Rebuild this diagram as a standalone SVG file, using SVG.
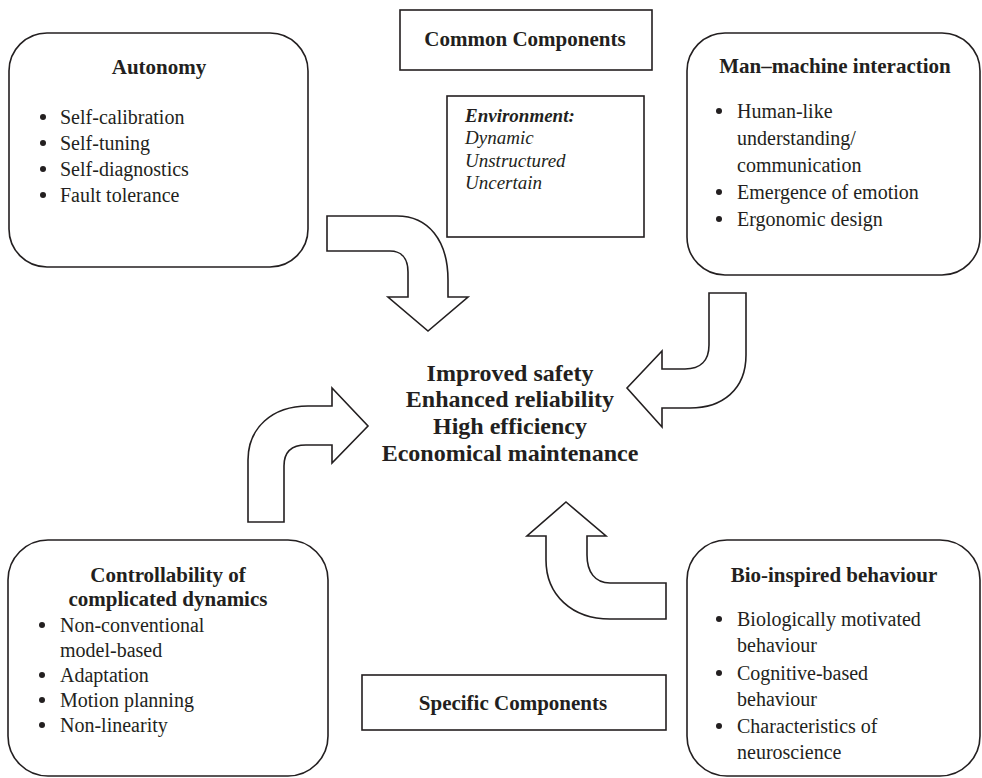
<svg xmlns="http://www.w3.org/2000/svg" width="982" height="778" viewBox="0 0 982 778">
<style>
.box{fill:#fff;stroke:#231f20;stroke-width:1.6}
.arr{fill:#fff;stroke:#231f20;stroke-width:1.6;stroke-linejoin:miter}
text{font-family:"Liberation Serif","Times New Roman",serif;fill:#231f20}
.t{font-size:21px;font-weight:bold;text-anchor:middle}
.b{font-size:20px}
.c{font-size:24px;font-weight:bold;text-anchor:middle}
.e{font-size:19px;font-style:italic}
.dot{fill:#231f20}
</style>
<rect width="982" height="778" fill="#fff"/>
<g id="connectors">
<path class="arr" d="M327,216 L397,216 C428,216 448,240 448,280 L448,297 L468,297 L428,331 L388,297 L408,297 L408,272 C408,258 401,251 390,251 L327,251 Z"/>
<path class="arr" d="M709,293 L746,293 L746,355 C746,390 722,408 690,408 L662,408 L662,427 L627,388 L662,351 L662,369 L685,369 C700,369 709,361 709,345 Z"/>
<path class="arr" d="M248,522 L248,460 C248,428 272,406 308,406 L332,406 L332,388 L368,426 L332,463 L332,445 L306,445 C292,445 284,452 284,466 L284,522 Z"/>
<path class="arr" d="M566,502 L606,536 L587,536 L587,555 C587,572 595,583 610,583 L666,583 L666,619 L610,619 C572,619 546,595 546,560 L546,536 L527,536 Z"/>
</g>
<g id="common">
<rect class="box" x="400" y="10" width="252" height="60"/>
<text class="t" x="525" y="46">Common Components</text>
</g>
<g id="environment">
<rect class="box" x="447" y="96" width="197" height="141"/>
<text class="e" x="465" y="122" font-weight="bold">Environment:</text>
<text class="e" x="465" y="144">Dynamic</text>
<text class="e" x="465" y="167">Unstructured</text>
<text class="e" x="465" y="189">Uncertain</text>
</g>
<g id="autonomy">
<rect class="box" x="9" y="33" width="299" height="234" rx="38"/>
<text class="t" x="159" y="74">Autonomy</text>
<circle class="dot" cx="43" cy="117" r="3"/><text class="b" x="60" y="124">Self-calibration</text>
<circle class="dot" cx="43" cy="143" r="3"/><text class="b" x="60" y="150">Self-tuning</text>
<circle class="dot" cx="43" cy="169" r="3"/><text class="b" x="60" y="176">Self-diagnostics</text>
<circle class="dot" cx="43" cy="195" r="3"/><text class="b" x="60" y="202">Fault tolerance</text>
</g>
<g id="manmachine">
<rect class="box" x="687" y="33" width="293" height="242" rx="38"/>
<text class="t" x="835" y="73">Man–machine interaction</text>
<circle class="dot" cx="719" cy="111" r="3"/><text class="b" x="737" y="118">Human-like</text>
<text class="b" x="737" y="145">understanding/</text>
<text class="b" x="737" y="172">communication</text>
<circle class="dot" cx="719" cy="192" r="3"/><text class="b" x="737" y="199">Emergence of emotion</text>
<circle class="dot" cx="719" cy="219" r="3"/><text class="b" x="737" y="226">Ergonomic design</text>
</g>
<g id="center">
<text class="c" x="510" y="381">Improved safety</text>
<text class="c" x="510" y="407">Enhanced reliability</text>
<text class="c" x="510" y="434">High efficiency</text>
<text class="c" x="510" y="461">Economical maintenance</text>
</g>
<g id="controllability">
<rect class="box" x="8" y="540" width="320" height="236" rx="40"/>
<text class="t" x="168" y="582">Controllability of</text>
<text class="t" x="168" y="606">complicated dynamics</text>
<circle class="dot" cx="42" cy="625" r="3"/><text class="b" x="60" y="632">Non-conventional</text>
<text class="b" x="60" y="657">model-based</text>
<circle class="dot" cx="42" cy="675" r="3"/><text class="b" x="60" y="682">Adaptation</text>
<circle class="dot" cx="42" cy="700" r="3"/><text class="b" x="60" y="707">Motion planning</text>
<circle class="dot" cx="42" cy="725" r="3"/><text class="b" x="60" y="732">Non-linearity</text>
</g>
<g id="specific">
<rect class="box" x="362" y="675" width="304" height="55"/>
<text class="t" x="513" y="710">Specific Components</text>
</g>
<g id="bioinspired">
<rect class="box" x="687" y="540" width="293" height="236" rx="40"/>
<text class="t" x="834" y="582">Bio-inspired behaviour</text>
<circle class="dot" cx="719" cy="619" r="3"/><text class="b" x="737" y="626">Biologically motivated</text>
<text class="b" x="737" y="652">behaviour</text>
<circle class="dot" cx="719" cy="673" r="3"/><text class="b" x="737" y="680">Cognitive-based</text>
<text class="b" x="737" y="706">behaviour</text>
<circle class="dot" cx="719" cy="726" r="3"/><text class="b" x="737" y="733">Characteristics of</text>
<text class="b" x="737" y="759">neuroscience</text>
</g>
</svg>
